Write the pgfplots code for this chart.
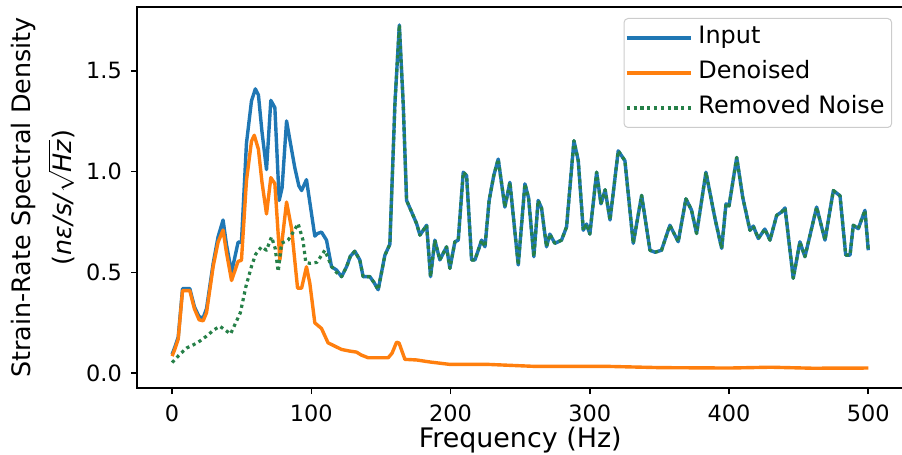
\documentclass[border=0pt]{standalone}
\usepackage{fontspec}
\setmainfont{DejaVu Sans}
\usepackage{pgfplots}
\pgfplotsset{compat=1.18}
\definecolor{mblue}{HTML}{1F77B4}
\definecolor{morange}{HTML}{FF7F0E}
\definecolor{mnoise}{RGB}{38,128,72}
\definecolor{lgray}{HTML}{CCCCCC}
\begin{document}
\begin{tikzpicture}
\begin{axis}[
  scale only axis,
  width=765.8bp, height=381bp,
  xmin=-25, xmax=525, ymin=-0.073, ymax=1.816,
  axis line style={line width=1.6bp, black},
  tick pos=left,
  tick align=outside,
  major tick length=6bp,
  every tick/.style={line width=1.6bp, black},
  xtick={0,100,200,300,400,500},
  ytick={0,0.5,1.0,1.5},
  yticklabel style={/pgf/number format/fixed, /pgf/number format/fixed zerofill, /pgf/number format/precision=1, xshift=-6bp},
  xticklabel style={yshift=-7bp},
  /pgf/number format/assume math mode=true,
  ticklabel style={font=\fontsize{22.5}{26}\selectfont},
  xlabel={Frequency (Hz)},
  xlabel style={font=\fontsize{27}{32}\selectfont, at={(axis description cs:0.5,-0.103)}, anchor=north, inner sep=0pt},
  ylabel={Strain-Rate Spectral Density\\(\textit{nε/s/}$\sqrt{\mbox{\itshape Hz}}$)},
  ylabel style={font=\fontsize{25.5}{41}\selectfont, align=center, at={(axis description cs:-0.081,0.5)}, anchor=south, inner sep=0pt},
  legend cell align=left,
  legend style={at={(1,1)}, anchor=north east, xshift=-11bp, yshift=-11bp,
    draw=lgray, line width=1bp, rounded corners=4bp, fill=white, fill opacity=0.8, text opacity=1,
    font=\fontsize{24}{28}\selectfont, inner xsep=1bp, inner ysep=2bp,
    nodes={inner sep=6bp, text height=17bp, text depth=6bp}},
  legend image code/.code={\draw[#1] (0bp,0bp) -- (54bp,0bp); \path (0bp,0bp) -- (64bp,0bp);},
]
\addplot[mblue, line width=3.4bp, line join=round] coordinates {
(0,0.094) (2,0.13) (4.4,0.18) (7.5,0.42) (10,0.42) (12.7,0.42) (16,0.33) (19.4,0.28)
(22.3,0.275) (24.7,0.32) (29.5,0.545) (33,0.676) (36.6,0.76) (39,0.64) (42.7,0.50)
(47.4,0.65) (49.8,0.65) (53.4,1.14) (57,1.35) (59.8,1.41) (62,1.38) (64.5,1.20)
(67.8,1.01) (70.9,1.353) (73.8,1.317) (76.9,0.857) (79,0.92) (82.2,1.251) (85,1.14)
(88.1,1.02) (91,0.93) (93,0.906) (96.5,0.96) (99.5,0.82) (102.5,0.68) (104.5,0.693)
(107.3,0.70) (110.9,0.66) (114.5,0.528) (118.1,0.512) (121.7,0.479) (125.3,0.528)
(128,0.58) (131.2,0.605) (134.8,0.562) (137.2,0.479) (142,0.479) (145,0.45) (148,0.414)
(152.8,0.585) (156.4,0.64) (160,1.333) (163.2,1.727) (166,1.333) (168.4,0.857)
(172,0.80) (175.6,0.742) (178,0.685) (182.8,0.734) (185.6,0.479) (188.7,0.66)
(192.3,0.562) (197.1,0.627) (199.5,0.52) (203.1,0.652) (205.5,0.66) (209.1,0.997)
(211.5,0.98) (215.1,0.562) (217.5,0.562) (222.3,0.66) (224.7,0.627) (227.7,0.857)
(231,0.98) (234.2,1.062) (239,0.824) (242.6,0.947) (248.6,0.537) (253.4,0.939)
(256,0.87) (259.8,0.578) (262.9,0.857) (265.3,0.82) (268.9,0.627) (271.3,0.69)
(274.9,0.644) (279.7,0.66) (283.3,0.726) (288.6,1.153) (291.7,1.054) (295.3,0.709)
(297.7,0.74) (300,0.69) (304.9,0.997) (308,0.84) (311,0.91) (314.5,0.76) (320.4,1.103)
(325.2,1.054) (331.2,0.644) (337.2,0.882) (343.2,0.61) (346.8,0.60) (351.5,0.61)
(357.5,0.734) (363.5,0.652) (369,0.865) (373,0.81) (376.7,0.693) (383.4,0.997)
(389.9,0.767) (394.7,0.619) (397.8,0.84) (400,0.83) (405.5,1.07) (409.8,0.873)
(415,0.709) (417.4,0.73) (421,0.668) (425.7,0.715) (429.4,0.66) (434.2,0.783)
(437.8,0.80) (440.2,0.82) (446.1,0.471) (450.9,0.652) (454.5,0.578) (462.9,0.824)
(468.9,0.66) (474.9,0.906) (479.7,0.88) (483.8,0.586) (486.9,0.586) (489.2,0.734)
(492.8,0.717) (497.6,0.808) (500,0.61)
};
\addlegendentry{Input}
\addplot[morange, line width=3.4bp, line join=round] coordinates {
(0,0.085) (2,0.12) (4.4,0.17) (7.5,0.41) (10,0.41) (12.7,0.41) (16,0.32) (19.4,0.265)
(22.3,0.26) (24.7,0.30) (29.5,0.53) (33,0.65) (36.6,0.71) (39,0.60) (42.7,0.46)
(47.4,0.555) (49.8,0.56) (53.4,0.955) (57,1.15) (59,1.18) (62,1.11) (64.5,0.95)
(67.8,0.79) (70.9,0.97) (73.8,0.94) (77.4,0.562) (82.2,0.849) (85.8,0.718) (90.1,0.422)
(93,0.422) (96.5,0.528) (98.9,0.447) (102.5,0.25) (107.3,0.222) (112,0.151)
(116.7,0.135) (121.7,0.118) (127.6,0.11) (132.4,0.105) (136,0.09) (140.8,0.077)
(148,0.077) (155.2,0.077) (158,0.10) (161.2,0.154) (163,0.15) (167.2,0.069)
(175.6,0.066) (185.1,0.056) (199.5,0.044) (227,0.044) (261,0.034) (314,0.034)
(350,0.028) (400,0.026) (430,0.03) (460,0.025) (500,0.026)
};
\addlegendentry{Denoised}
\addplot[mnoise, line width=3.2bp, line join=round, dash pattern=on 3.2bp off 3.6bp] coordinates {
(0,0.053) (5,0.09) (10.3,0.125) (15,0.14) (20,0.16) (24.7,0.184) (30,0.215) (34.3,0.233)
(38,0.215) (42,0.195) (45,0.24) (49,0.30) (53,0.43) (57,0.53) (60,0.59) (64.2,0.627)
(67.8,0.61) (71.4,0.676) (74,0.62) (76.2,0.504) (78.6,0.645) (83.3,0.66) (87,0.70)
(90.5,0.742) (94,0.66) (96,0.55) (98.9,0.545) (104,0.55) (109.7,0.61) (114.5,0.53)
(118.1,0.50) (121.7,0.479) (125.3,0.528)
(128,0.58) (131.2,0.605) (134.8,0.562) (137.2,0.479) (142,0.479) (145,0.45) (148,0.414)
(152.8,0.585) (156.4,0.64) (160,1.333) (163.2,1.727) (166,1.333) (168.4,0.857)
(172,0.80) (175.6,0.742) (178,0.685) (182.8,0.734) (185.6,0.479) (188.7,0.66)
(192.3,0.562) (197.1,0.627) (199.5,0.52) (203.1,0.652) (205.5,0.66) (209.1,0.997)
(211.5,0.98) (215.1,0.562) (217.5,0.562) (222.3,0.66) (224.7,0.627) (227.7,0.857)
(231,0.98) (234.2,1.062) (239,0.824) (242.6,0.947) (248.6,0.537) (253.4,0.939)
(256,0.87) (259.8,0.578) (262.9,0.857) (265.3,0.82) (268.9,0.627) (271.3,0.69)
(274.9,0.644) (279.7,0.66) (283.3,0.726) (288.6,1.153) (291.7,1.054) (295.3,0.709)
(297.7,0.74) (300,0.69) (304.9,0.997) (308,0.84) (311,0.91) (314.5,0.76) (320.4,1.103)
(325.2,1.054) (331.2,0.644) (337.2,0.882) (343.2,0.61) (346.8,0.60) (351.5,0.61)
(357.5,0.734) (363.5,0.652) (369,0.865) (373,0.81) (376.7,0.693) (383.4,0.997)
(389.9,0.767) (394.7,0.619) (397.8,0.84) (400,0.83) (405.5,1.07) (409.8,0.873)
(415,0.709) (417.4,0.73) (421,0.668) (425.7,0.715) (429.4,0.66) (434.2,0.783)
(437.8,0.80) (440.2,0.82) (446.1,0.471) (450.9,0.652) (454.5,0.578) (462.9,0.824)
(468.9,0.66) (474.9,0.906) (479.7,0.88) (483.8,0.586) (486.9,0.586) (489.2,0.734)
(492.8,0.717) (497.6,0.808) (500,0.61)
};
\addlegendentry{Removed Noise}
\end{axis}
\pgfresetboundingbox
\useasboundingbox (-137.3bp,-67bp) rectangle (764.7bp,388bp);
\end{tikzpicture}
\end{document}
